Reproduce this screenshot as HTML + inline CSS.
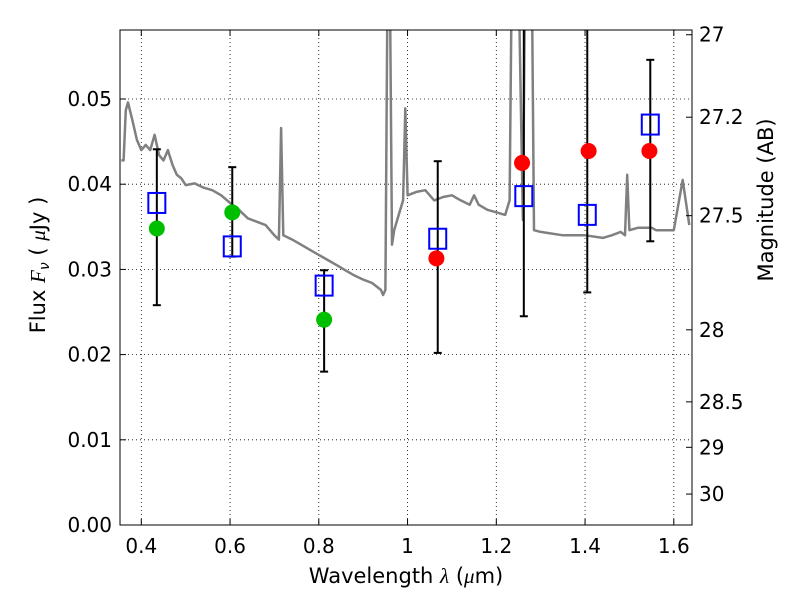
<!DOCTYPE html>
<html><head><meta charset="utf-8"><style>
body{margin:0;background:#fff;}
svg{display:block;font-family:"DejaVu Sans","Liberation Sans",sans-serif;}
</style></head><body>
<svg id="chart" width="800" height="600" viewBox="0 0 800 600">
<defs><clipPath id="clip"><rect x="120" y="30" width="572" height="495"/></clipPath></defs>
<rect width="800" height="600" fill="#fff"/>
<g id="grid"></g>
<g id="series" clip-path="url(#clip)"></g>
<rect x="120" y="30" width="572" height="495" fill="none" stroke="#000" stroke-width="1"/>
<g id="axes"></g>
<text x="406" y="583" font-size="21" text-anchor="middle">Wavelength  <tspan font-style="italic" font-family="Liberation Serif, serif">λ</tspan> (<tspan font-style="italic" font-family="Liberation Serif, serif">μ</tspan>m)</text>
<text transform="translate(45,265) rotate(-90)" font-size="21" text-anchor="middle">Flux  <tspan font-style="italic" font-family="Liberation Serif, serif">F</tspan><tspan font-style="italic" font-size="14" dy="4">ν</tspan><tspan dy="-4">  (  </tspan><tspan font-style="italic" font-family="Liberation Serif, serif">μ</tspan>Jy )</text>
<text transform="translate(773,200) rotate(-90)" font-size="21" text-anchor="middle">Magnitude (AB)</text>
</svg>
<script>
const specWave=[0.355,0.36,0.365,0.37,0.38,0.39,0.40,0.41,0.42,0.43,0.44,0.45,0.46,0.47,0.48,0.49,0.50,0.52,0.54,0.56,0.58,0.60,0.62,0.64,0.66,0.68,0.70,0.71,0.715,0.72,0.74,0.76,0.78,0.80,0.82,0.84,0.86,0.88,0.90,0.92,0.94,0.945,0.95,0.955,0.96,0.965,0.97,0.98,0.99,0.995,1.00,1.02,1.04,1.06,1.08,1.10,1.12,1.14,1.15,1.16,1.18,1.20,1.22,1.23,1.235,1.25,1.26,1.265,1.28,1.285,1.30,1.35,1.40,1.44,1.46,1.48,1.49,1.495,1.50,1.52,1.55,1.56,1.60,1.62,1.635];
const specFlux=[0.0428,0.0428,0.0487,0.0496,0.0475,0.0452,0.0440,0.0446,0.0440,0.0458,0.0434,0.0428,0.0440,0.0423,0.0411,0.0407,0.0399,0.0401,0.0396,0.0393,0.0387,0.0378,0.0370,0.0360,0.0356,0.0352,0.0340,0.0335,0.0466,0.0340,0.0335,0.0329,0.0323,0.0317,0.0311,0.0305,0.0299,0.0293,0.0288,0.0284,0.0276,0.0270,0.0276,0.065,0.065,0.0329,0.0346,0.0364,0.0381,0.0489,0.0387,0.0391,0.0393,0.0381,0.0385,0.0387,0.0381,0.0376,0.0387,0.0376,0.0370,0.0367,0.0364,0.0381,0.065,0.065,0.0358,0.065,0.065,0.0346,0.0344,0.0340,0.0340,0.0337,0.0340,0.0344,0.0340,0.0411,0.0346,0.0349,0.0349,0.0346,0.0346,0.0405,0.0352];
const greenWave=[0.435,0.605,0.812];
const greenFlux=[0.0348,0.0367,0.0241];
const redWave=[1.065,1.258,1.408,1.545];
const redFlux=[0.0313,0.0425,0.0439,0.0439];
const boxWave=[0.435,0.605,0.812,1.068,1.262,1.405,1.547];
const boxFlux=[0.0378,0.0327,0.0281,0.0336,0.0386,0.0364,0.0470];
const errLow=[0.0258,0.0315,0.0180,0.0202,0.0245,0.0273,0.0333];
const errHigh=[0.0441,0.0420,0.0299,0.0427,0.070,0.070,0.0546];
const xTicks=[0.4,0.6,0.8,1.0,1.2,1.4,1.6];
const xTickLabels=["0.4","0.6","0.8","1","1.2","1.4","1.6"];
const yTicks=[0,0.01,0.02,0.03,0.04,0.05];
const yTickLabels=["0.00","0.01","0.02","0.03","0.04","0.05"];
const magTicks=[27,27.2,27.5,28,28.5,29,30];
const magTickLabels=["27","27.2","27.5","28","28.5","29","30"];

const NS="http://www.w3.org/2000/svg";
const X0=120,X1=692,Y0=525,Y1=30,xmin=0.352,xmax=1.641,ymin=0,ymax=0.0581;
function sx(v){return X0+(v-xmin)/(xmax-xmin)*(X1-X0);}
function sy(v){return Y0-(v-ymin)/(ymax-ymin)*(Y0-Y1);}
function mk(tag,attrs,parent){const e=document.createElementNS(NS,tag);for(const k in attrs)e.setAttribute(k,attrs[k]);parent.appendChild(e);return e;}
const grid=document.getElementById('grid'),series=document.getElementById('series'),axes=document.getElementById('axes');

xTicks.forEach((t,i)=>{const x=sx(t);
 const g=mk('line',{x1:x,x2:x,y1:Y1,y2:Y0,stroke:'#000','stroke-width':0.8,'stroke-dasharray':'1,3'},grid);
 
 mk('line',{x1:x,x2:x,y1:Y0,y2:Y0-6,stroke:'#000'},axes);
 mk('line',{x1:x,x2:x,y1:Y1,y2:Y1+6,stroke:'#000'},axes);
 const tx=mk('text',{x:x,y:553,'font-size':20,'text-anchor':'middle'},axes);tx.textContent=xTickLabels[i];
 });
yTicks.forEach((t,i)=>{const y=sy(t);
 if(t>0){const g=mk('line',{x1:X0,x2:X1,y1:y,y2:y,stroke:'#000','stroke-width':0.8,'stroke-dasharray':'1,3'},grid);
 }
 mk('line',{x1:X0,x2:X0+6,y1:y,y2:y,stroke:'#000'},axes);
 const tx=mk('text',{x:112,y:y+7,'font-size':20,'text-anchor':'end'},axes);tx.textContent=yTickLabels[i];
 });
magTicks.forEach((m,i)=>{const y=sy(Math.pow(10,(23.9-m)/2.5));
 mk('line',{x1:X1,x2:X1-6,y1:y,y2:y,stroke:'#000'},axes);
 const tx=mk('text',{x:699,y:y+7,'font-size':20},axes);tx.textContent=magTickLabels[i];
 });

const pts=specWave.map((w,i)=>sx(w).toFixed(1)+','+sy(specFlux[i]).toFixed(1)).join(' ');
const sp=mk('polyline',{points:pts,fill:'none',stroke:'#808080','stroke-width':2.5,'stroke-linejoin':'round'},series);


boxWave.forEach((w,i)=>{const x=sx(w);
 const g=mk('g',{},series);
 
 mk('line',{x1:x,x2:x,y1:sy(errLow[i]),y2:sy(errHigh[i]),stroke:'#000','stroke-width':2},g);
 mk('line',{x1:x-4,x2:x+4,y1:sy(errLow[i]),y2:sy(errLow[i]),stroke:'#000','stroke-width':2},g);
 mk('line',{x1:x-4,x2:x+4,y1:sy(errHigh[i]),y2:sy(errHigh[i]),stroke:'#000','stroke-width':2},g);});
greenWave.forEach((w,i)=>{const c=mk('circle',{cx:sx(w),cy:sy(greenFlux[i]),r:8,fill:'#00bf00'},series);
 });
redWave.forEach((w,i)=>{const c=mk('circle',{cx:sx(w),cy:sy(redFlux[i]),r:8,fill:'#ff0000'},series);
 });
boxWave.forEach((w,i)=>{const r=mk('rect',{x:sx(w)-8.5,y:sy(boxFlux[i])-10,width:17,height:20,fill:'none',stroke:'#0000ff','stroke-width':2},series);
 });
</script>
</body></html>
